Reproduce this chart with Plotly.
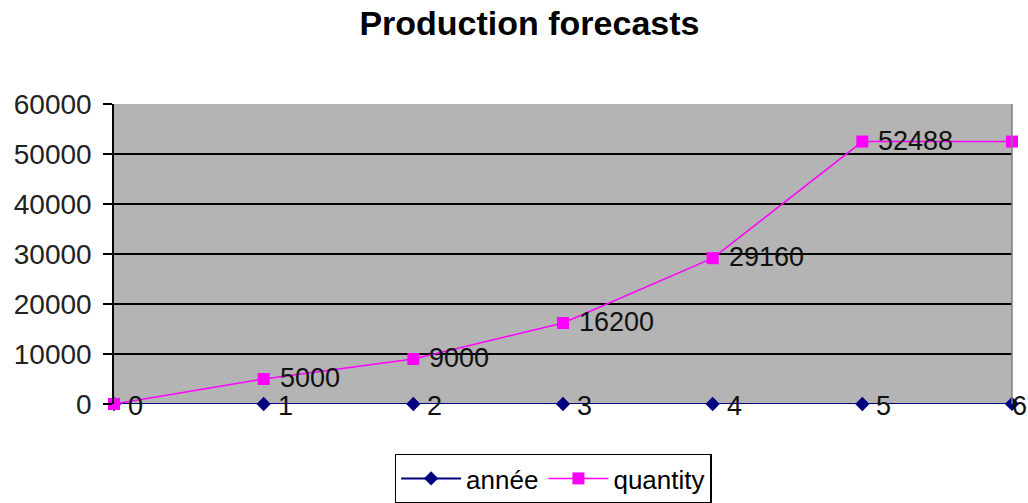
import plotly.graph_objects as go

years = [0, 1, 2, 3, 4, 5, 6]
annee = [0, 1, 2, 3, 4, 5, 6]
quantity = [0, 5000, 9000, 16200, 29160, 52488, 52488]
quantity_labels = ["", "5000", "9000", "16200", "29160", "52488", ""]
annee_labels = ["0", "1", "2", "3", "4", "5", "6"]
y_ticks = [0, 10000, 20000, 30000, 40000, 50000, 60000]

FONT = "Liberation Sans, Arial, sans-serif"
LABEL_FONT = dict(family=FONT, size=27, color="#111111")

fig = go.Figure()

fig.add_trace(go.Scatter(
    x=years, y=annee, name="année", mode="lines+markers",
    line=dict(color="#000080", width=2),
    marker=dict(symbol="diamond", size=11, color="#000080"),
    cliponaxis=False,
))

fig.add_trace(go.Scatter(
    x=years, y=quantity, name="quantity", mode="lines+markers",
    line=dict(color="#FF00FF", width=1.5),
    marker=dict(symbol="square", size=12, color="#FF00FF"),
    cliponaxis=False,
))

# data labels to the right of each point; the last one is pulled in to stay on the page
for i, (xv, yv, lab) in enumerate(zip(years, annee, annee_labels)):
    fig.add_annotation(x=xv, y=yv, text=lab, showarrow=False,
                       xanchor="left", yanchor="middle",
                       xshift=(-2 if i == len(years) - 1 else 12), yshift=-2,
                       font=LABEL_FONT)
for xv, yv, lab in zip(years, quantity, quantity_labels):
    if lab:
        fig.add_annotation(x=xv, y=yv, text=lab, showarrow=False,
                           xanchor="left", yanchor="middle",
                           xshift=14, yshift=1, font=LABEL_FONT)

fig.update_layout(
    width=1028, height=503,
    margin=dict(l=114, r=16, t=104, b=99, autoexpand=False),
    paper_bgcolor="#FFFFFF",
    plot_bgcolor="#B4B4B4",
    font=dict(family=FONT, size=26, color="#000000"),
    title=dict(text="<b>Production forecasts</b>", x=0.515, xanchor="center",
               y=0.955, yanchor="middle",
               font=dict(family=FONT, size=34, color="#000000")),
    xaxis=dict(range=[0, 6], showgrid=False, zeroline=False,
               showticklabels=False, ticks="", showline=False),
    yaxis=dict(range=[0, 60000], tickvals=y_ticks,
               ticktext=[str(v) for v in y_ticks],
               showgrid=True, gridcolor="#000000", gridwidth=2,
               zeroline=False, showline=True, linecolor="#000000", linewidth=1.5,
               ticks="outside", ticklen=9, tickcolor="#000000", tickwidth=1.5,
               ticklabelstandoff=6,
               tickfont=dict(family=FONT, size=28, color="#222222")),
    legend=dict(orientation="h", x=0.489, xanchor="center", y=-0.165, yanchor="top",
                bordercolor="#000000", borderwidth=1.5, bgcolor="#FFFFFF",
                font=dict(family=FONT, size=26, color="#000000"),
                itemwidth=60),
    showlegend=True,
)

fig.add_shape(type="line", xref="paper", yref="paper", x0=1, x1=1, y0=0, y1=1,
              line=dict(color="#808080", width=1.5))

fig.write_html("out.html")
